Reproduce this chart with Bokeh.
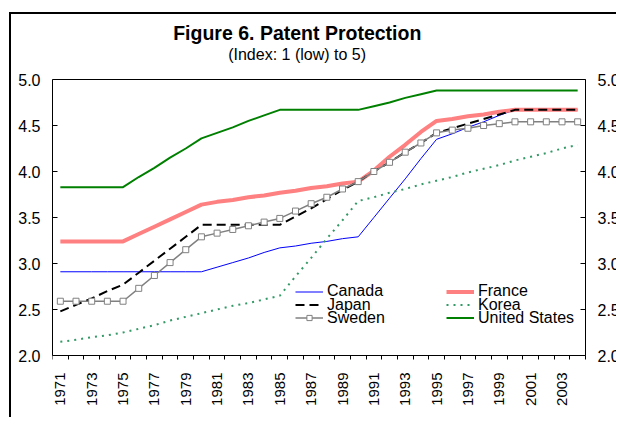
from bokeh.plotting import figure
from bokeh.models import (Range1d, LinearAxis, FixedTicker, Title, Legend, LegendItem,
                          ColumnDataSource, NumeralTickFormatter)
from bokeh.embed import file_html
from bokeh.resources import INLINE

years = list(range(1971, 2005))
year_labels = [str(y) for y in range(1971, 2005, 2)]
y_ticks = [2.0, 2.5, 3.0, 3.5, 4.0, 4.5, 5.0]

canada = [2.91, 2.91, 2.91, 2.91, 2.91, 2.91, 2.91, 2.91, 2.91, 2.91,
          2.96, 3.01, 3.06, 3.12, 3.17, 3.19, 3.22, 3.24, 3.27, 3.29,
          3.50, 3.71, 3.92, 4.14, 4.35, 4.41, 4.48, 4.54, 4.61, 4.67,
          4.67, 4.67, 4.67, 4.67]
france = [3.24, 3.24, 3.24, 3.24, 3.24, 3.32, 3.40, 3.48, 3.56, 3.64,
          3.67, 3.69, 3.72, 3.74, 3.77, 3.79, 3.82, 3.84, 3.87, 3.89,
          4.01, 4.16, 4.29, 4.43, 4.55, 4.57, 4.60, 4.62, 4.65, 4.67,
          4.67, 4.67, 4.67, 4.67]
japan = [2.48, 2.55, 2.62, 2.70, 2.77, 2.90, 3.03, 3.16, 3.29, 3.42,
         3.42, 3.42, 3.42, 3.42, 3.42, 3.51, 3.60, 3.70, 3.80, 3.89,
         4.00, 4.10, 4.21, 4.31, 4.42, 4.47, 4.52, 4.57, 4.62, 4.67,
         4.67, 4.67, 4.67, 4.67]
korea = [2.15, 2.17, 2.20, 2.22, 2.25, 2.29, 2.33, 2.38, 2.42, 2.46,
         2.50, 2.54, 2.57, 2.61, 2.65, 2.86, 3.06, 3.27, 3.47, 3.68,
         3.72, 3.77, 3.81, 3.86, 3.90, 3.94, 3.99, 4.03, 4.07, 4.12,
         4.16, 4.20, 4.25, 4.29]
sweden = [2.59, 2.59, 2.59, 2.59, 2.59, 2.73, 2.87, 3.01, 3.15, 3.29,
          3.33, 3.37, 3.41, 3.45, 3.49, 3.57, 3.65, 3.72, 3.81, 3.89,
          4.00, 4.10, 4.21, 4.31, 4.42, 4.45, 4.47, 4.50, 4.52, 4.54,
          4.54, 4.54, 4.54, 4.54]
united_states = [3.83, 3.83, 3.83, 3.83, 3.83, 3.94, 4.04, 4.15, 4.25, 4.36,
                 4.42, 4.48, 4.55, 4.61, 4.67, 4.67, 4.67, 4.67, 4.67, 4.67,
                 4.71, 4.75, 4.80, 4.84, 4.88, 4.88, 4.88, 4.88, 4.88, 4.88,
                 4.88, 4.88, 4.88, 4.88]

FONT = "Liberation Sans"

src = ColumnDataSource(dict(year=years, canada=canada, france=france, japan=japan,
                            korea=korea, sweden=sweden, us=united_states))

# layout (pixels)
W, H = 607, 405
LEFT = 41            # canvas edge -> left side of the plot box
TOP = 55             # canvas edge -> top of the drawing frame
PAD_TOP = 10         # frame top -> top side of the plot box
PLOT_W, PLOT_H = 533, 276
EXTRA_R = W - LEFT - PLOT_W
BELOW = H - TOP - PAD_TOP - PLOT_H

y0, y1 = y_ticks[0], y_ticks[-1]
x0, x1 = years[0] - 0.5, years[-1] + 0.5
x_end = x1 + EXTRA_R * (x1 - x0) / PLOT_W
y_start = y0 - BELOW * (y1 - y0) / PLOT_H
y_end = y1 + PAD_TOP * (y1 - y0) / PLOT_H

p = figure(width=W, height=H, output_backend="svg", toolbar_location=None,
           x_range=Range1d(x0, x_end), y_range=Range1d(y_start, y_end),
           min_border_left=LEFT, min_border_right=0, min_border_top=TOP,
           min_border_bottom=0,
           x_axis_location=None, y_axis_location=None, title=None)
p.styles = {"position": "relative", "left": "9px", "top": "12px",
            "border-left": "2px solid black", "border-top": "2px solid black",
            "border-right": "none", "border-bottom": "none"}
p.grid.visible = False
p.outline_line_color = None
p.background_fill_color = "white"
p.border_fill_color = "white"

# bottom axis: category boundaries as small ticks, odd years as labels
xax = LinearAxis(ticker=FixedTicker(ticks=[int(s) for s in year_labels],
                                    minor_ticks=[y - 0.5 for y in years] + [x1]),
                 major_label_overrides={int(s): s for s in year_labels},
                 bounds=(x0, x1), fixed_location=y0)
xax.major_tick_in = 0
xax.major_tick_out = 0
xax.minor_tick_in = 0
xax.minor_tick_out = 4
xax.major_label_orientation = 3.14159265 / 2
xax.major_label_standoff = 13
xax.major_label_text_font = FONT
xax.major_label_text_font_size = "15px"
xax.major_label_text_color = "black"
xax.axis_line_color = "black"
p.add_layout(xax, "below")

# top edge of the plot box
top = LinearAxis(ticker=FixedTicker(ticks=[], minor_ticks=[]), bounds=(x0, x1),
                 fixed_location=y1)
top.major_tick_in = 0
top.major_tick_out = 0
top.axis_line_color = "black"
p.add_layout(top, "above")

for side in ("left", "right"):
    ax = LinearAxis(ticker=FixedTicker(ticks=y_ticks, minor_ticks=[]),
                    formatter=NumeralTickFormatter(format="0.0"), bounds=(y0, y1))
    if side == "right":
        ax.fixed_location = x1
    ax.major_tick_in = 5
    ax.major_tick_out = 0
    ax.major_label_standoff = 12
    ax.major_label_text_font = FONT
    ax.major_label_text_font_size = "16px"
    ax.major_label_text_color = "black"
    ax.axis_line_color = "black"
    p.add_layout(ax, side)

# titles (spacer, subtitle, title stacked upward from the frame)
p.add_layout(Title(text=" ", text_font_size="1px", standoff=4), "above")
p.add_layout(Title(text="(Index: 1 (low) to 5)", align="left", offset=175.7,
                   text_font=FONT, text_font_size="16px", text_font_style="normal",
                   text_color="black", standoff=0), "above")
p.add_layout(Title(text="Figure 6. Patent Protection", align="left", offset=120.7,
                   text_font=FONT, text_font_size="19.5px", text_font_style="bold",
                   text_color="black", standoff=0), "above")

# series
r_can = p.line("year", "canada", source=src, line_color="#0000FF", line_width=1)
r_fra = p.line("year", "france", source=src, line_color="#FF8080", line_width=4)
r_jpn = p.line("year", "japan", source=src, line_color="black", line_width=2, line_dash="9 5")
r_kor = p.line("year", "korea", source=src, line_color="#339966", line_width=2, line_dash="2 5")
r_swe = p.line("year", "sweden", source=src, line_color="#808080", line_width=1.5)
r_swe_m = p.scatter("year", "sweden", source=src, marker="square", size=6,
                    fill_color="white", line_color="#808080", line_width=1)
r_us = p.line("year", "us", source=src, line_color="#008000", line_width=2)

common = dict(orientation="vertical", background_fill_alpha=0, border_line_color=None,
              padding=0, margin=0, spacing=0, glyph_width=28, glyph_height=13,
              label_height=13, label_standoff=4, label_text_font=FONT,
              label_text_font_size="16px", label_text_color="black")
legend_entries = [("Canada", [r_can], 243, 55), ("Japan", [r_jpn], 243, 41.5),
                  ("Sweden", [r_swe, r_swe_m], 243, 28.5),
                  ("France", [r_fra], 394, 55), ("Korea", [r_kor], 394, 41.5),
                  ("United States", [r_us], 394, 28.5)]
for label, rends, lx, ly in legend_entries:
    p.add_layout(Legend(items=[LegendItem(label=label, renderers=rends)],
                        location=(lx, ly + BELOW), **common), "center")

open("out.html", "w").write(file_html(p, INLINE))
